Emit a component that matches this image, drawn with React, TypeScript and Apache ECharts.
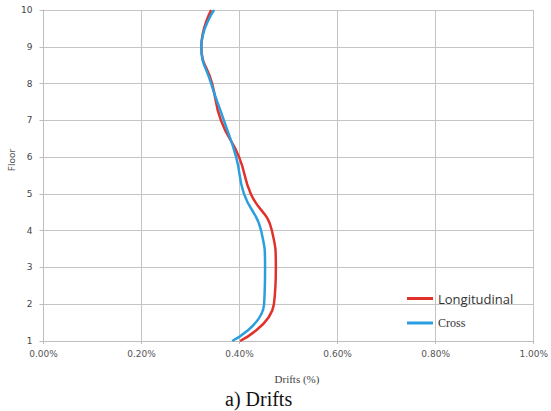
import React, { useEffect, useRef } from "react";
import * as echarts from "echarts";

const floors = [1, 2, 3, 4, 5, 6, 7, 8, 9, 10];
const longitudinal = [0.401, 0.47, 0.474, 0.466, 0.423, 0.399, 0.362, 0.344, 0.322, 0.342];
const cross = [0.385, 0.45, 0.452, 0.444, 0.409, 0.393, 0.368, 0.342, 0.322, 0.348];
const seriesNames = ["Longitudinal", "Cross"];
const xTitle = "Drifts (%)";
const yTitle = "Floor";
const caption = "a) Drifts";

export default function App() {
  const ref = useRef<HTMLDivElement>(null);
  useEffect(() => {
    if (!ref.current) return;
    const chart = echarts.init(ref.current, null, { renderer: "svg" });
    const toPts = (arr: number[]) => arr.map((v, i) => [v, floors[i]]);
    chart.setOption({
      animation: false,
      backgroundColor: "#ffffff",
      graphic: [
        {
          type: "text",
          left: 225,
          top: 389,
          style: { text: caption, fontFamily: "Liberation Serif", fontSize: 20, fill: "#111" },
        },
        {
          type: "text",
          x: 297,
          y: 379,
          style: {
            text: xTitle,
            fontFamily: "Liberation Serif",
            fontSize: 11,
            fill: "#444",
            align: "center",
            verticalAlign: "middle",
          },
        },
        {
          type: "text",
          x: 12,
          y: 160,
          rotation: Math.PI / 2,
          style: {
            text: yTitle,
            fontFamily: "DejaVu Sans",
            fontSize: 9,
            fill: "#555",
            align: "center",
            verticalAlign: "middle",
          },
        },
      ],
      grid: { left: 43.5, right: 15, top: 10, bottom: 70 },
      legend: {
        orient: "vertical",
        left: 402,
        top: 287,
        itemWidth: 26,
        itemHeight: 3,
        itemGap: 12,
        icon: "rect",
        data: [
          { name: seriesNames[0], textStyle: { fontFamily: "Open Sans", fontSize: 13, color: "#333" } },
          { name: seriesNames[1], textStyle: { fontFamily: "Liberation Serif", fontSize: 12, color: "#333" } },
        ],
      },
      xAxis: {
        type: "value",
        min: 0,
        max: 1,
        interval: 0.2,
        axisLine: { show: true, lineStyle: { color: "#bdbdbd" } },
        axisTick: { show: true, length: 3, lineStyle: { color: "#bdbdbd" } },
        axisLabel: {
          formatter: (v: number) => v.toFixed(2) + "%",
          fontFamily: "DejaVu Sans",
          fontSize: 9,
          color: "#555",
          margin: 8,
        },
        splitLine: { show: true, lineStyle: { color: "#c4c4c4", width: 1 } },
      },
      yAxis: {
        type: "value",
        min: 1,
        max: 10,
        interval: 1,
        axisLine: { show: true, lineStyle: { color: "#bdbdbd" } },
        axisTick: { show: true, length: 4, lineStyle: { color: "#bdbdbd" } },
        axisLabel: { fontFamily: "DejaVu Sans", fontSize: 9, color: "#444", margin: 11 },
        splitLine: { show: true, lineStyle: { color: "#c4c4c4", width: 1 } },
      },
      series: [
        {
          name: seriesNames[0],
          type: "line",
          data: toPts(longitudinal),
          smooth: true,
          showSymbol: false,
          color: "#e0312b",
          lineStyle: { width: 2.5, color: "#e0312b" },
        },
        {
          name: seriesNames[1],
          type: "line",
          data: toPts(cross),
          smooth: true,
          showSymbol: false,
          color: "#2a9fe0",
          lineStyle: { width: 2.5, color: "#2a9fe0" },
        },
      ],
    });
    return () => chart.dispose();
  }, []);
  return <div ref={ref} style={{ width: 551, height: 411, position: "absolute", left: 0, top: 0 }} />;
}
